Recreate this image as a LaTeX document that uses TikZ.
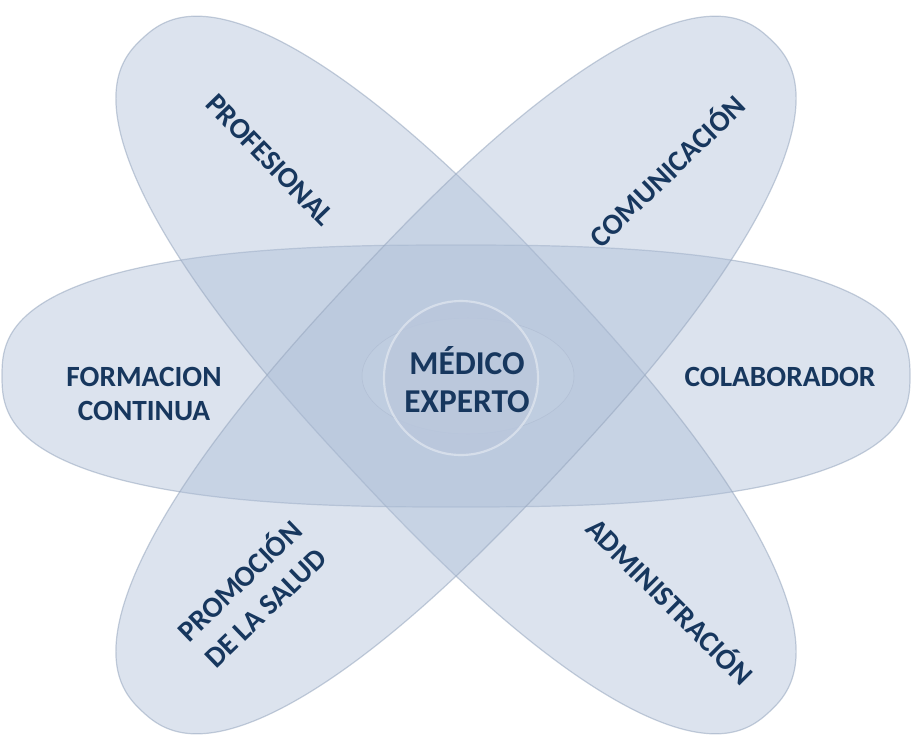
\documentclass[tikz,border=0pt]{standalone}
\usepackage{fontspec}
\setmainfont{Carlito}
\usepackage{tikz}

\definecolor{petalblue}{RGB}{173,190,215}
\definecolor{rimblue}{RGB}{150,166,190}
\definecolor{hubblue}{RGB}{186,199,220}
\definecolor{navytext}{RGB}{23,55,94}

\begin{document}
\begin{tikzpicture}[x=0.75pt,y=0.75pt,yscale=-1,xscale=1,
	petal/.style={fill=petalblue,fill opacity=0.43,draw=rimblue,draw opacity=0.55,line width=0.9pt},
	lbl/.style={text=navytext,font=\bfseries\fontsize{22}{28}\selectfont,inner sep=0.75pt,align=center},
	hublbl/.style={lbl,font=\bfseries\fontsize{25}{28.5}\selectfont}]
	\useasboundingbox (0,0) rectangle (912,736);
	
	%Shape: Petal [horizontal]
	\draw  [petal,shift={(456,376)}] plot [domain=1:359,samples=180,smooth cycle] ({454*cos(\x)*abs(cos(\x))^(-0.2308)},{131*sin(\x)*abs(sin(\x))^(-0.2308)}) ;
	%Shape: Petal [top left to bottom right]
	\draw  [petal,shift={(456,375)},rotate=47] plot [domain=1:359,samples=180,smooth cycle] ({460*cos(\x)*abs(cos(\x))^(-0.1667)},{141*sin(\x)*abs(sin(\x))^(-0.1667)}) ;
	%Shape: Petal [top right to bottom left]
	\draw  [petal,shift={(456,375)},rotate=-47] plot [domain=1:359,samples=180,smooth cycle] ({460*cos(\x)*abs(cos(\x))^(-0.1667)},{141*sin(\x)*abs(sin(\x))^(-0.1667)}) ;
	%Shape: Ellipse [glow round the hub]
	\draw  [draw=rimblue,draw opacity=0.3,fill=white,fill opacity=0.06] (468,376) ellipse (106 and 58) ;
	%Shape: Circle [hub]
	\draw  [fill=hubblue,fill opacity=0.85,draw=white,draw opacity=0.4,line width=1.6pt] (461,378) circle (77) ;
	
	% Text Node
	\node (hub) at (467,380) [hublbl] {MÉDICO\\EXPERTO};
	% Text Node
	\node (prof) at (270,160) [lbl,rotate=-46] {PROFESIONAL};
	% Text Node
	\node (comu) at (666,170) [lbl,rotate=44] {COMUNICACIÓN};
	% Text Node
	\node (colab) at (780,377) [lbl] {COLABORADOR};
	% Text Node
	\node (adm) at (671,600) [lbl,rotate=-45] {ADMINISTRACIÓN};
	% Text Node
	\node (promo) at (251,593) [lbl,rotate=44] {PROMOCIÓN\\DE LA SALUD};
	% Text Node
	\node (form) at (144,394) [lbl,font=\bfseries\fontsize{22}{26}\selectfont] {FORMACION\\CONTINUA};
	
\end{tikzpicture}
\end{document}
